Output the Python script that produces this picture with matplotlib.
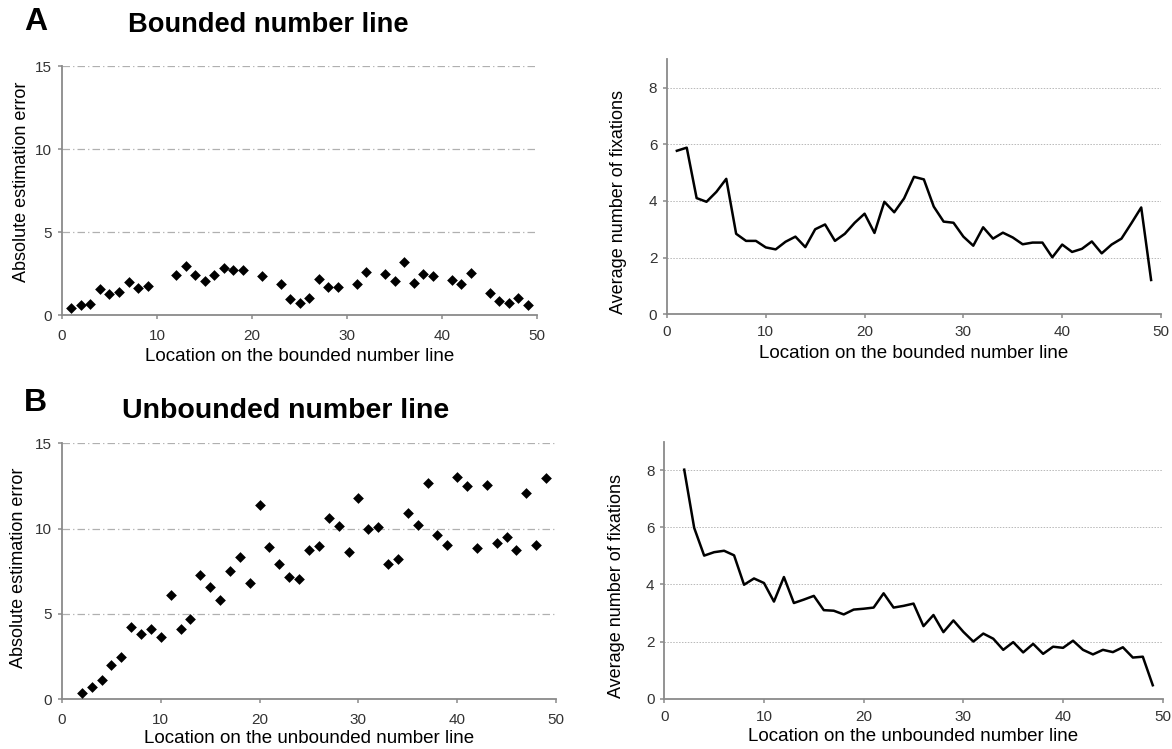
import matplotlib
matplotlib.use("Agg")
import matplotlib.pyplot as plt

plt.rcParams['font.family'] = ['Liberation Sans', 'DejaVu Sans']

# --- A: bounded number line ---
bounded_err_x = [1, 2, 3, 4, 5, 6, 7, 8, 9, 12, 13, 14, 15, 16, 17, 18, 19, 21,
                 23, 24, 25, 26, 27, 28, 29, 31, 32, 34, 35, 36, 37, 38, 39,
                 41, 42, 43, 45, 46, 47, 48, 49]
bounded_err_y = [0.40, 0.60, 0.66, 1.55, 1.25, 1.40, 1.97, 1.60, 1.73, 2.43, 2.97,
                 2.39, 2.03, 2.39, 2.85, 2.69, 2.73, 2.33, 1.85, 0.96, 0.70, 1.00,
                 2.15, 1.69, 1.69, 1.85, 2.57, 2.45, 2.05, 3.21, 1.93, 2.45, 2.37,
                 2.11, 1.85, 2.51, 1.31, 0.86, 0.70, 1.02, 0.60]

bounded_fix_x = list(range(1, 50))
bounded_fix_y = [5.77, 5.88, 4.10, 3.97, 4.32, 4.78, 2.84, 2.59, 2.59, 2.36,
                 2.29, 2.56, 2.74, 2.37, 3.00, 3.17, 2.59, 2.84, 3.23, 3.55,
                 2.87, 3.97, 3.60, 4.09, 4.85, 4.76, 3.80, 3.27, 3.23, 2.74,
                 2.42, 3.07, 2.67, 2.88, 2.71, 2.47, 2.53, 2.53, 2.01, 2.46,
                 2.20, 2.31, 2.57, 2.15, 2.46, 2.67, 3.21, 3.77, 1.21]

# --- B: unbounded number line ---
unbounded_err_x = list(range(2, 50))
unbounded_err_y = [0.35, 0.70, 1.13, 2.01, 2.46, 4.22, 3.85, 4.10, 3.67, 6.09,
                   4.10, 4.71, 7.30, 6.56, 5.80, 7.54, 8.32, 6.82, 11.41, 8.95,
                   7.91, 7.18, 7.05, 8.75, 9.00, 10.63, 10.14, 8.63, 11.80, 9.98,
                   10.08, 7.91, 8.22, 10.90, 10.21, 12.66, 9.61, 9.06, 13.03, 12.52,
                   8.89, 12.58, 9.18, 9.49, 8.77, 12.11, 9.06, 12.95]

unbounded_fix_x = list(range(2, 50))
unbounded_fix_y = [8.02, 5.98, 5.01, 5.13, 5.18, 5.02, 3.99, 4.21, 4.05, 3.40,
                   4.26, 3.35, 3.47, 3.60, 3.10, 3.08, 2.95, 3.12, 3.15, 3.19,
                   3.69, 3.19, 3.25, 3.33, 2.54, 2.93, 2.33, 2.74, 2.34, 2.00,
                   2.28, 2.10, 1.71, 1.98, 1.62, 1.92, 1.57, 1.82, 1.78, 2.03,
                   1.71, 1.55, 1.71, 1.63, 1.80, 1.44, 1.47, 0.47]

x_ticks = [0, 10, 20, 30, 40, 50]
err_ticks = [0, 5, 10, 15]
fix_ticks = [0, 2, 4, 6, 8]

AXIS_GREY = "#8a8a8a"
TICK_TEXT = "#333333"
XLABEL_SIZE = 13.5
YLABEL_SIZE = 13

fig = plt.figure(figsize=(11.72, 7.49), dpi=100)


def style(ax, yticks, ylim, grid_style, grid_lw, grid_color, xpad):
    for side in ("top", "right"):
        ax.spines[side].set_visible(False)
    for side in ("left", "bottom"):
        ax.spines[side].set_color(AXIS_GREY)
        ax.spines[side].set_linewidth(1.3)
    ax.set_xlim(0, 50)
    ax.set_ylim(*ylim)
    ax.set_xticks(x_ticks)
    ax.set_yticks(yticks)
    ax.tick_params(axis="both", colors=AXIS_GREY, labelcolor=TICK_TEXT,
                   labelsize=11, length=3, width=1.1, direction="out", pad=4)
    ax.tick_params(axis="x", pad=xpad)
    for y in yticks[1:]:
        ax.axhline(y, color=grid_color, lw=grid_lw, ls=grid_style, zorder=0)


def label(ax, xlabel, ylabel, xpad, ypad, ypos):
    ax.set_xlabel(xlabel, fontsize=XLABEL_SIZE, labelpad=xpad)
    ax.set_ylabel(ylabel, fontsize=YLABEL_SIZE, labelpad=ypad)
    ax.yaxis.label.set_y(ypos)


def err_panel(rect, xs, ys, xlabel, xpad, ypad, ypos):
    ax = fig.add_axes(rect)
    style(ax, err_ticks, (0, 15), (0, (6, 2.5, 1, 2.5)), 0.9, "#b0b0b0", 7)
    ax.scatter(xs, ys, marker="D", s=30, color="black", zorder=3, linewidths=0)
    label(ax, xlabel, "Absolute estimation error", xpad, ypad, ypos)
    return ax


def fix_panel(rect, xs, ys, xlabel, xpad, ypad, ypos):
    ax = fig.add_axes(rect)
    style(ax, fix_ticks, (0, 9), (0, (1.5, 1.5)), 0.7, "#b8b8b8", 5)
    ax.plot(xs, ys, color="black", lw=1.8, zorder=3)
    label(ax, xlabel, "Average number of fixations", xpad, ypad, ypos)
    return ax


err_panel([0.0529, 0.5794, 0.4053, 0.3324], bounded_err_x, bounded_err_y,
          "Location on the bounded number line", 4, 3.5, 0.536)
fix_panel([0.5691, 0.5804, 0.4215, 0.3405], bounded_fix_x, bounded_fix_y,
          "Location on the bounded number line", 4, 16, 0.44)
err_panel([0.0529, 0.0664, 0.4215, 0.3418], unbounded_err_x, unbounded_err_y,
          "Location on the unbounded number line", 2, 6, 0.515)
fix_panel([0.5668, 0.0672, 0.4253, 0.3431], unbounded_fix_x, unbounded_fix_y,
          "Location on the unbounded number line", 3, 15, 0.44)

fig.text(0.0205, 0.971, "A", fontsize=23, fontweight="bold", va="center")
fig.text(0.109, 0.9666, "Bounded number line", fontsize=19.6, fontweight="bold", va="center")
fig.text(0.0205, 0.462, "B", fontsize=23, fontweight="bold", va="center")
fig.text(0.104, 0.451, "Unbounded number line", fontsize=20.5, fontweight="bold", va="center")

fig.savefig("out.png", dpi=100, facecolor="white")
